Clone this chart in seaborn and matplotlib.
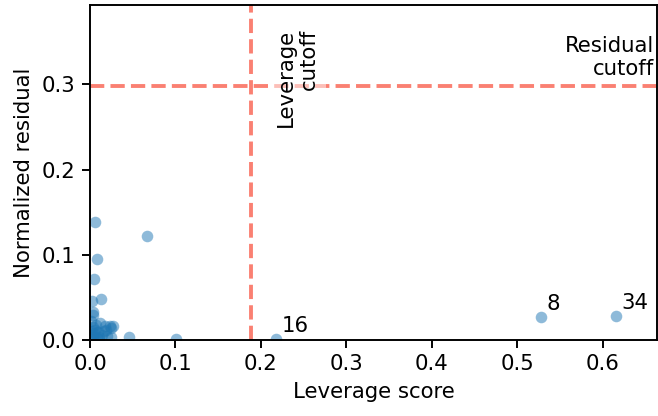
import matplotlib
matplotlib.use("Agg")
import matplotlib.pyplot as plt
import seaborn as sns
import pandas as pd

# du lieu doc tu hinh
leverage = [0.004, 0.012, 0.006, 0.018, 0.002, 0.023, 0.008, 0.027, 0.528, 0.025,
            0.067, 0.006, 0.009, 0.005, 0.002, 0.046, 0.218, 0.004, 0.013, 0.014,
            0.020, 0.101, 0.024, 0.008, 0.001, 0.003, 0.001, 0.016, 0.011, 0.005,
            0.002, 0.003, 0.019, 0.007, 0.616, 0.010]
residual = [0.029, 0.020, 0.138, 0.017, 0.046, 0.017, 0.095, 0.017, 0.027, 0.014,
            0.122, 0.012, 0.009, 0.071, 0.006, 0.004, 0.001, 0.004, 0.048, 0.006,
            0.005, 0.001, 0.003, 0.002, 0.001, 0.015, 0.022, 0.010, 0.003, 0.008,
            0.010, 0.033, 0.012, 0.018, 0.028, 0.001]
labeled = [8, 16, 34]
leverage_cutoff = 0.189
residual_cutoff = 0.298

df = pd.DataFrame({"leverage": leverage, "residual": residual})

sns.set_style("white")
plt.rcParams['font.family'] = ['DejaVu Sans']
plt.rcParams['font.size'] = 11
plt.rcParams['text.color'] = 'black'
plt.rcParams['axes.labelcolor'] = 'black'

fig = plt.figure(figsize=(658 / 139, 416 / 139), dpi=139)
ax = fig.add_axes([0.1368, 0.1827, 0.862, 0.805])

sns.scatterplot(data=df, x="leverage", y="residual", ax=ax,
                color="#1f77b4", alpha=0.5, s=36, linewidth=0)

for i in labeled:
    ax.text(leverage[i] + 0.006, residual[i] + 0.004, str(i),
            ha="left", va="bottom", fontsize=11, color="black")

ax.axvline(leverage_cutoff, color="salmon", ls="--", lw=2)
ax.axhline(residual_cutoff, color="salmon", ls="--", lw=2)

ax.set_xlim(0, 0.664)
ax.set_ylim(0, 0.393)

ax.text(0.217, 0.365, "Leverage\ncutoff", rotation=90, ha="left", va="top",
        multialignment="right", fontsize=11, color="black",
        bbox=dict(facecolor="white", alpha=0.5, edgecolor="none", pad=4))
ax.text(0.660, 0.306, "Residual\ncutoff", ha="right", va="bottom",
        multialignment="right", fontsize=11, color="black")

ax.set_xlabel("Leverage score", fontsize=11)
ax.set_ylabel("Normalized residual", fontsize=11)
ax.set_xticks([0.0, 0.1, 0.2, 0.3, 0.4, 0.5, 0.6])
ax.set_yticks([0.0, 0.1, 0.2, 0.3])
ax.tick_params(direction="out", length=4, width=1, colors="black", labelsize=11,
               bottom=True, left=True)
for sp in ax.spines.values():
    sp.set_color("black")
    sp.set_linewidth(1)

fig.savefig("out.png", dpi=139)
